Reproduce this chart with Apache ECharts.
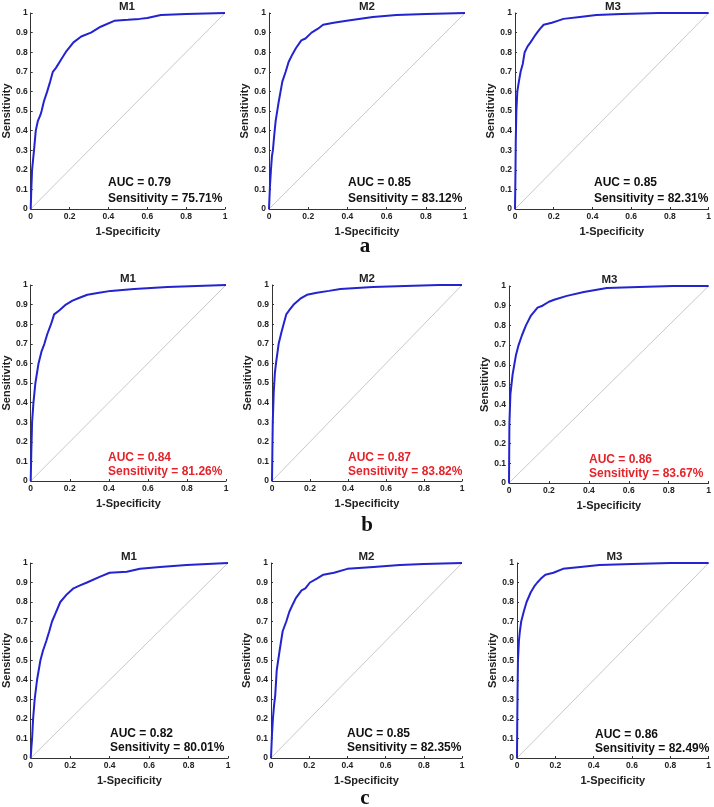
<!DOCTYPE html>
<html>
<head>
<meta charset="utf-8">
<script src="https://cdn.jsdelivr.net/npm/echarts@6/dist/echarts.min.js"></script>
<style>
html,body{margin:0;padding:0;background:#fff;}
#chart{width:714px;height:807px;}
</style>
</head>
<body>
<div id="chart"></div>
<script>
// ---- Data ----
var panelTitles = ['M1', 'M2', 'M3'];
var rowLabels = ['a', 'b', 'c'];
var xTickLabels = ['0', '0.2', '0.4', '0.6', '0.8', '1'];
var yTickLabels = ['0', '0.1', '0.2', '0.3', '0.4', '0.5', '0.6', '0.7', '0.8', '0.9', '1'];
var diagX = [0, 1];
var diagY = [0, 1];

var aucValues = ['0.79', '0.85', '0.85', '0.84', '0.87', '0.86', '0.82', '0.85', '0.86'];
var sensValues = ['75.71%', '83.12%', '82.31%', '81.26%', '83.82%', '83.67%', '80.01%', '82.35%', '82.49%'];

var a_M1_fpr = [0, 0.003, 0.007, 0.012, 0.017, 0.026, 0.037, 0.05, 0.056, 0.068, 0.085, 0.10, 0.114, 0.13, 0.155, 0.18, 0.22, 0.26, 0.31, 0.36, 0.43, 0.5, 0.56, 0.6, 0.67, 0.8, 1];
var a_M1_tpr = [0, 0.1, 0.2, 0.25, 0.3, 0.4, 0.45, 0.48, 0.5, 0.55, 0.6, 0.65, 0.7, 0.72, 0.76, 0.8, 0.85, 0.88, 0.9, 0.93, 0.96, 0.965, 0.97, 0.975, 0.99, 0.995, 1];

var a_M2_fpr = [0, 0.005, 0.01, 0.015, 0.02, 0.027, 0.034, 0.05, 0.068, 0.085, 0.10, 0.12, 0.137, 0.165, 0.186, 0.217, 0.25, 0.276, 0.33, 0.396, 0.53, 0.65, 0.8, 1];
var a_M2_tpr = [0, 0.12, 0.2, 0.27, 0.3, 0.38, 0.45, 0.55, 0.65, 0.7, 0.75, 0.79, 0.82, 0.86, 0.87, 0.9, 0.92, 0.94, 0.95, 0.96, 0.98, 0.99, 0.995, 1];

var a_M3_fpr = [0, 0.002, 0.004, 0.007, 0.012, 0.02, 0.029, 0.04, 0.05, 0.065, 0.08, 0.1, 0.114, 0.13, 0.148, 0.19, 0.22, 0.25, 0.335, 0.42, 0.55, 0.74, 1];
var a_M3_tpr = [0, 0.15, 0.35, 0.5, 0.6, 0.65, 0.7, 0.74, 0.8, 0.83, 0.85, 0.88, 0.9, 0.92, 0.94, 0.95, 0.96, 0.97, 0.98, 0.99, 0.995, 1, 1];

var b_M1_fpr = [0, 0.003, 0.007, 0.014, 0.024, 0.04, 0.055, 0.07, 0.085, 0.104, 0.12, 0.146, 0.18, 0.214, 0.25, 0.29, 0.35, 0.41, 0.53, 0.7, 0.85, 1];
var b_M1_tpr = [0, 0.15, 0.3, 0.4, 0.5, 0.6, 0.66, 0.7, 0.75, 0.8, 0.85, 0.87, 0.9, 0.92, 0.935, 0.95, 0.96, 0.97, 0.98, 0.99, 0.995, 1];

var b_M2_fpr = [0, 0.002, 0.004, 0.009, 0.015, 0.021, 0.035, 0.05, 0.061, 0.075, 0.09, 0.114, 0.149, 0.184, 0.236, 0.3, 0.36, 0.53, 0.7, 0.88, 1];
var b_M2_tpr = [0, 0.15, 0.3, 0.45, 0.55, 0.6, 0.7, 0.76, 0.8, 0.85, 0.87, 0.9, 0.93, 0.95, 0.96, 0.97, 0.98, 0.99, 0.995, 1, 1];

var b_M3_fpr = [0, 0.001, 0.002, 0.007, 0.018, 0.035, 0.048, 0.065, 0.085, 0.11, 0.143, 0.168, 0.2, 0.226, 0.29, 0.375, 0.49, 0.65, 0.82, 1];
var b_M3_tpr = [0, 0.15, 0.3, 0.45, 0.55, 0.65, 0.7, 0.75, 0.8, 0.85, 0.89, 0.9, 0.92, 0.93, 0.95, 0.97, 0.99, 0.995, 1, 1];

var c_M1_fpr = [0, 0.003, 0.007, 0.012, 0.02, 0.032, 0.049, 0.062, 0.079, 0.094, 0.108, 0.125, 0.15, 0.184, 0.217, 0.25, 0.285, 0.352, 0.40, 0.487, 0.554, 0.655, 0.79, 1];
var c_M1_tpr = [0, 0.05, 0.1, 0.2, 0.3, 0.4, 0.5, 0.55, 0.6, 0.65, 0.7, 0.74, 0.8, 0.84, 0.87, 0.885, 0.9, 0.93, 0.95, 0.955, 0.97, 0.98, 0.99, 1];

var c_M2_fpr = [0, 0.005, 0.01, 0.016, 0.022, 0.03, 0.045, 0.061, 0.08, 0.096, 0.115, 0.13, 0.16, 0.18, 0.204, 0.24, 0.274, 0.33, 0.40, 0.536, 0.675, 0.8, 1];
var c_M2_tpr = [0, 0.12, 0.2, 0.27, 0.32, 0.45, 0.55, 0.65, 0.7, 0.75, 0.79, 0.82, 0.86, 0.87, 0.9, 0.92, 0.94, 0.95, 0.97, 0.98, 0.99, 0.995, 1];

var c_M3_fpr = [0, 0.001, 0.003, 0.005, 0.01, 0.015, 0.022, 0.035, 0.05, 0.072, 0.09, 0.106, 0.125, 0.148, 0.19, 0.24, 0.33, 0.43, 0.6, 0.8, 1];
var c_M3_tpr = [0, 0.15, 0.35, 0.5, 0.6, 0.65, 0.7, 0.75, 0.8, 0.85, 0.88, 0.9, 0.92, 0.94, 0.95, 0.97, 0.98, 0.99, 0.995, 1, 1];

var curves = [
  [a_M1_fpr, a_M1_tpr], [a_M2_fpr, a_M2_tpr], [a_M3_fpr, a_M3_tpr],
  [b_M1_fpr, b_M1_tpr], [b_M2_fpr, b_M2_tpr], [b_M3_fpr, b_M3_tpr],
  [c_M1_fpr, c_M1_tpr], [c_M2_fpr, c_M2_tpr], [c_M3_fpr, c_M3_tpr]
];

// ---- Layout (pixels) ----
var grids = [
  [29, 13, 196, 196], [269, 13, 196, 196], [515, 13, 196, 196],
  [30, 285, 196, 196], [272, 285, 190, 196], [509, 286, 201, 197],
  [30, 563, 198, 195], [271, 563, 191, 195], [517, 563, 195, 195]
];
var textPos = [
  [108, 177, 16], [348, 177, 16], [594, 177, 16],
  [108, 452, 14], [348, 452, 14], [589, 454, 14],
  [110, 728, 14], [347, 728, 14], [595, 729, 14]
];
var rowLabelPos = [[365, 236], [367, 515], [365, 788]];

var FONT = '"Liberation Sans", Arial, sans-serif';
var chart = echarts.init(document.getElementById('chart'));
function zip(xs, ys) { return xs.map(function (x, i) { return [x, ys[i]]; }); }

var option = { animation: false, grid: [], xAxis: [], yAxis: [], series: [], title: [], graphic: [] };

grids.forEach(function (g, i) {
  option.grid.push({ left: g[0], top: g[1], width: g[2], height: g[3], containLabel: false });
  option.xAxis.push({
    gridIndex: i, type: 'value', min: 0, max: 1, interval: 0.2,
    name: '1-Specificity', nameLocation: 'middle', nameGap: 17,
    nameTextStyle: { fontFamily: FONT, fontWeight: 'bold', fontSize: 11, color: '#222' },
    axisLine: { lineStyle: { color: '#333', width: 1 } },
    axisTick: { show: true, inside: true, length: 2, lineStyle: { color: '#333' } },
    axisLabel: { fontFamily: FONT, fontWeight: 'bold', fontSize: 8.5, color: '#222', margin: 3,
      formatter: function (v) { return xTickLabels[Math.round(v * 5)]; } },
    splitLine: { show: false }
  });
  option.yAxis.push({
    gridIndex: i, type: 'value', min: 0, max: 1, interval: 0.1,
    name: 'Sensitivity', nameLocation: 'middle', nameGap: 18, nameRotate: 90,
    nameTextStyle: { fontFamily: FONT, fontWeight: 'bold', fontSize: 11, color: '#222' },
    axisLine: { lineStyle: { color: '#333', width: 1 } },
    axisTick: { show: true, inside: true, length: 2, lineStyle: { color: '#333' } },
    axisLabel: { fontFamily: FONT, fontWeight: 'bold', fontSize: 8.5, color: '#222', margin: 3,
      formatter: function (v) { return yTickLabels[Math.round(v * 10)]; } },
    splitLine: { show: false }
  });
  option.series.push({
    type: 'line', xAxisIndex: i, yAxisIndex: i, data: zip(diagX, diagY),
    symbol: 'none', lineStyle: { color: '#c8c8c8', width: 1 }, silent: true
  });
  option.series.push({
    type: 'line', xAxisIndex: i, yAxisIndex: i, data: zip(curves[i][0], curves[i][1]),
    symbol: 'none', lineStyle: { color: '#2323cf', width: 2 }, silent: true
  });
  option.title.push({
    text: panelTitles[i % 3], left: g[0] + g[2] / 2, top: g[1] - 12, textAlign: 'center',
    padding: 0,
    textStyle: { fontFamily: FONT, fontWeight: 'bold', fontSize: 11.5, color: '#222' }
  });
  var red = Math.floor(i / 3) === 1;
  var tp = textPos[i];
  option.graphic.push({
    type: 'text', left: tp[0], top: tp[1],
    style: { text: 'AUC = ' + aucValues[i], fontFamily: FONT, fontWeight: 'bold', fontSize: 12,
      fill: red ? '#e4232b' : '#111' }
  });
  option.graphic.push({
    type: 'text', left: tp[0], top: tp[1] + tp[2],
    style: { text: 'Sensitivity = ' + sensValues[i], fontFamily: FONT, fontWeight: 'bold', fontSize: 12,
      fill: red ? '#e4232b' : '#111' }
  });
});

rowLabels.forEach(function (lab, r) {
  option.graphic.push({
    type: 'text', x: rowLabelPos[r][0], y: rowLabelPos[r][1],
    style: { text: lab, fontFamily: '"Liberation Serif", "Times New Roman", serif', fontWeight: 'bold',
      fontSize: 21, fill: '#111', align: 'center', verticalAlign: 'top' }
  });
});

chart.setOption(option);
</script>
</body>
</html>
